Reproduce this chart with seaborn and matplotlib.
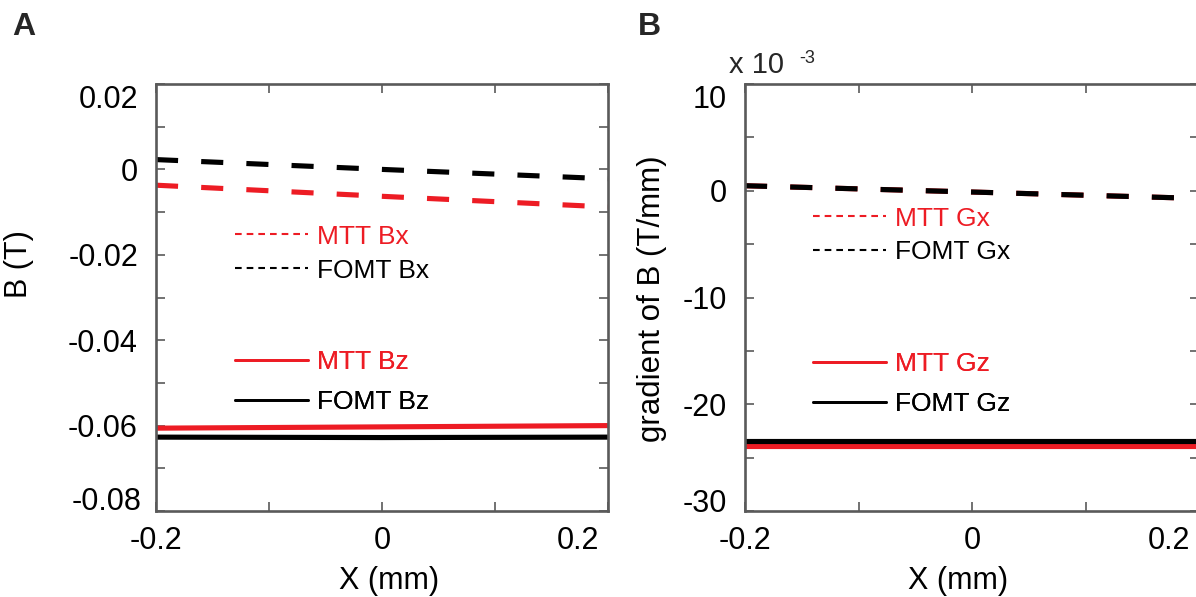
import numpy as np
import pandas as pd
import seaborn as sns
import matplotlib
matplotlib.use("Agg")
import matplotlib.pyplot as plt
from matplotlib.lines import Line2D
from matplotlib.transforms import ScaledTranslation

# ---------------- data ----------------
x_mm = [-0.2, 0.0, 0.2]
# Panel A: B (T)
mtt_bx = [-0.0037, -0.0063, -0.0088]
fomt_bx = [0.0023, 0.0000, -0.0022]
mtt_bz = [-0.0606, -0.0603, -0.0600]
fomt_bz = [-0.0627, -0.0628, -0.0627]
# Panel B: gradient of B (units of 1e-3 T/mm)
mtt_gx = [0.47, -0.12, -0.72]
fomt_gx = [0.47, -0.12, -0.72]
mtt_gz = [-23.9, -23.9, -23.9]
fomt_gz = [-23.45, -23.45, -23.45]

xticks = [-0.2, -0.1, 0.0, 0.1, 0.2]
xticklabels = ["-0.2", "", "0", "", "0.2"]
a_yticks = [-0.08, -0.07, -0.06, -0.05, -0.04, -0.03, -0.02, -0.01, 0.0, 0.01, 0.02]
a_yticklabels = ["-0.08", "", "-0.06", "", "-0.04", "", "-0.02", "", "0", "", "0.02"]
b_yticks = [-30, -25, -20, -15, -10, -5, 0, 5, 10]
b_yticklabels = ["-30", "", "-20", "", "-10", "", "0", "", "10"]

RED = "#ED1C24"
BLACK = "#000000"
SPINE = "#5a5a5a"

sns.set_theme(style="white")
plt.rcParams["font.family"] = ["Liberation Sans", "DejaVu Sans"]
plt.rcParams["axes.unicode_minus"] = False

W, H = 1196, 597
DPI = 100
fig = plt.figure(figsize=(W / DPI, H / DPI), dpi=DPI)
fig.patch.set_facecolor("white")

axA = fig.add_axes([156 / W, 1 - 511 / H, 452 / W, 427 / H])
axB = fig.add_axes([745 / W, 1 - 511 / H, 454 / W, 427 / H])

LW = 3.7
DASH = (0, (4.3, 4.5))
FS = 22


def draw(ax, y, color, dashed):
    sns.lineplot(x=x_mm, y=y, ax=ax, color=color, lw=LW,
                 linestyle=DASH if dashed else "-", legend=False,
                 solid_capstyle="butt", dash_capstyle="butt")


# Panel A
draw(axA, mtt_bx, RED, True)
draw(axA, fomt_bx, BLACK, True)
draw(axA, mtt_bz, RED, False)
draw(axA, fomt_bz, BLACK, False)
# Panel B
draw(axB, mtt_gx, RED, True)
draw(axB, fomt_gx, BLACK, True)
draw(axB, mtt_gz, RED, False)
draw(axB, fomt_gz, BLACK, False)


def style_axes(ax, yticks, ylabels, ylim):
    ax.set_xlim(-0.2, 0.2)
    ax.set_ylim(*ylim)
    ax.set_xticks(xticks)
    ax.set_xticklabels(xticklabels)
    ax.set_yticks(yticks)
    ax.set_yticklabels(ylabels)
    ax.grid(False)
    for s in ax.spines.values():
        s.set_visible(True)
        s.set_color(SPINE)
        s.set_linewidth(1.9)
    ax.tick_params(axis="both", which="major", direction="in", length=6.5,
                   width=1.2, color=SPINE, labelsize=FS, labelcolor="black",
                   top=True, right=True, bottom=True, left=True,
                   labeltop=False, labelright=False)
    ax.tick_params(axis="y", pad=13)
    ax.tick_params(axis="x", pad=10.5)
    ax.set_facecolor("white")


style_axes(axA, a_yticks, a_yticklabels, (-0.08, 0.02))
style_axes(axB, b_yticks, b_yticklabels, (-30, 10))

axA.set_xlabel("X (mm)", fontsize=FS, color="black")
axB.set_xlabel("X (mm)", fontsize=FS, color="black")
axA.xaxis.set_label_coords(0.515, -0.128)
axB.xaxis.set_label_coords(0.469, -0.128)
axA.set_ylabel("B (T)", fontsize=FS, color="black")
axB.set_ylabel("gradient of B (T/mm)", fontsize=22.5, color="black")
axA.yaxis.set_label_coords(-0.27, 0.578)
axB.yaxis.set_label_coords(-0.172, 0.497)


def shift(label, dx, dy):
    label.set_transform(label.get_transform() +
                        ScaledTranslation(dx / DPI, dy / DPI, fig.dpi_scale_trans))


ta = axA.yaxis.get_major_ticks()
shift(ta[-1].label1, 0, -13)
shift(ta[0].label1, 4, 12)
tb = axB.yaxis.get_major_ticks()
shift(tb[-1].label1, 0, -12)
shift(tb[0].label1, 0, 11)
for ax in (axA, axB):
    shift(ax.xaxis.get_major_ticks()[-1].label1, -30, 0)


def make_legend(ax, labels, colors, dashed, anchor, spacing, fs=19):
    handles = []
    for c in colors:
        if dashed:
            handles.append(Line2D([], [], color=c, lw=1.5, linestyle=(0, (3.2, 2.4))))
        else:
            handles.append(Line2D([], [], color=c, lw=2.0, linestyle="-"))
    leg = ax.legend(handles, labels, loc="center left", bbox_to_anchor=anchor,
                    frameon=False, fontsize=fs, handlelength=2.75,
                    handletextpad=0.35, labelspacing=spacing, borderpad=0,
                    borderaxespad=0, labelcolor=colors)
    ax.add_artist(leg)
    return leg


make_legend(axA, ["MTT Bx", "FOMT Bx"], [RED, BLACK], True, (0.175, 0.603), 0.38)
make_legend(axA, ["MTT Bz", "FOMT Bz"], [RED, BLACK], False, (0.175, 0.302), 0.6)
make_legend(axB, ["MTT Gx", "FOMT Gx"], [RED, BLACK], True, (0.150, 0.646), 0.35)
make_legend(axB, ["MTT Gz", "FOMT Gz"], [RED, BLACK], False, (0.150, 0.297), 0.6)

# panel letters and multiplier
fig.text(12 / W, 1 - 12 / H, "A", fontsize=23, fontweight="bold", va="top", ha="left")
fig.text(638 / W, 1 - 12 / H, "B", fontsize=23, fontweight="bold", va="top", ha="left")
fig.text(729 / W, 1 - 73 / H, "x 10", fontsize=21, va="baseline", ha="left")
fig.text(799 / W, 1 - 63 / H, "-3", fontsize=13, va="baseline", ha="left")

fig.savefig("out.png", dpi=DPI, facecolor="white")
